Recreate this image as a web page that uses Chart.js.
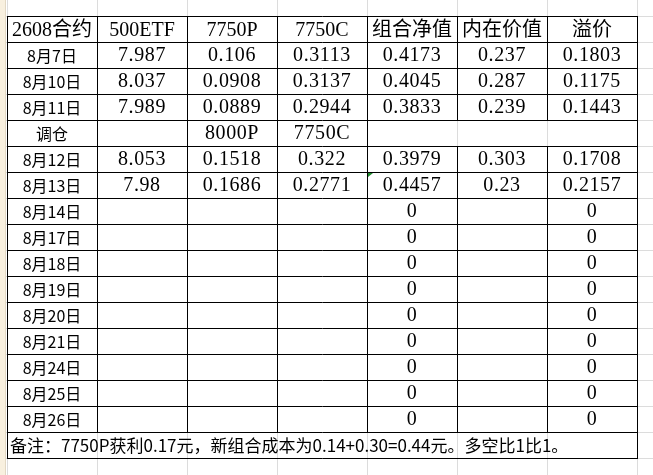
<!DOCTYPE html>
<html>
<head>
<meta charset="utf-8">
<script src="https://cdn.jsdelivr.net/npm/chart.js@4.4.1/dist/chart.umd.min.js"></script>
<style>
  html, body { margin: 0; padding: 0; background: #fff; }
  #wrap { position: relative; width: 653px; height: 475px; }
</style>
</head>
<body>
<div id="wrap"><canvas id="sheet"></canvas></div>
<script>
// --- TABLE DATA ---
const headers = ['2608合约', '500ETF', '7750P', '7750C', '组合净值', '内在价值', '溢价'];
const rowLabels = ['8月7日', '8月10日', '8月11日', '调仓', '8月12日', '8月13日', '8月14日', '8月17日',
  '8月18日', '8月19日', '8月20日', '8月21日', '8月24日', '8月25日', '8月26日'];
const etfPrice = [7.987, 8.037, 7.989, null, 8.053, 7.98];
const putLeg = [0.106, 0.0908, 0.0889, '8000P', 0.1518, 0.1686];
const callLeg = [0.3113, 0.3137, 0.2944, '7750C', 0.322, 0.2771];
const netValue = [0.4173, 0.4045, 0.3833, null, 0.3979, 0.4457, 0, 0, 0, 0, 0, 0, 0, 0, 0];
const intrinsic = [0.237, 0.287, 0.239, null, 0.303, 0.23];
const premium = [0.1803, 0.1175, 0.1443, null, 0.1708, 0.2157, 0, 0, 0, 0, 0, 0, 0, 0, 0];
const note = '备注：7750P获利0.17元，新组合成本为0.14+0.30=0.44元。多空比1比1。';

const ROLL_ROW = 3; // merged row
const NOTE_ROW = rowLabels.length + 1; // y value of note row top

const NUM_FONT = '20px "Liberation Serif", "Noto Sans CJK SC", serif';
const HEAD_FONT = '20px "Liberation Serif", "Noto Sans CJK SC", serif';
const DATE_FONT = '16px "Noto Sans CJK SC", sans-serif';
const NOTE_FONT = '17px "Noto Sans CJK SC", sans-serif';

// one dataset per column, each cell is a point in the middle of its box
function columnPoints(col, values) {
  const pts = [];
  values.forEach((v, i) => {
    if (v === null || v === undefined || v === '') return;
    pts.push({ x: col + 0.5, y: i + 1.5, text: String(v) });
  });
  return pts;
}

const columns = [rowLabels, etfPrice, putLeg, callLeg, netValue, intrinsic, premium];
const datasets = columns.map((vals, c) => ({
  label: headers[c],
  data: columnPoints(c, vals),
  font: c === 0 ? DATE_FONT : NUM_FONT,
  spacing: c === 0 ? '0px' : '0.6px',
  pointRadius: 0
}));
datasets.push({
  label: 'header',
  data: headers.map((h, c) => ({ x: c + 0.5, y: 0.5, text: h })),
  font: HEAD_FONT,
  spacing: '0px',
  pointRadius: 0
});
datasets.push({
  label: 'note',
  data: [{ x: 0, y: NOTE_ROW + 0.5, text: note }],
  font: NOTE_FONT,
  spacing: '0px',
  align: 'left',
  pointRadius: 0
});

// --- GRID PLUGIN (spreadsheet lines + table borders) ---
const gridPlugin = {
  id: 'sheetGrid',
  beforeDatasetsDraw(chart) {
    const { ctx, scales: { x, y }, width, height } = chart;
    const px = v => Math.round(x.getPixelForValue(v)) + 0.5;
    const py = v => Math.round(y.getPixelForValue(v)) + 0.5;
    ctx.save();
    // light spreadsheet grid everywhere
    ctx.strokeStyle = '#dcdcdc';
    ctx.lineWidth = 1;
    for (let c = -1; c <= headers.length + 1; c++) {
      ctx.beginPath(); ctx.moveTo(px(c), 0); ctx.lineTo(px(c), height); ctx.stroke();
    }
    for (let r = -1; r <= NOTE_ROW + 2; r++) {
      ctx.beginPath(); ctx.moveTo(0, py(r)); ctx.lineTo(width, py(r)); ctx.stroke();
    }
    // row header strip on the left
    ctx.fillStyle = '#f8f0df';
    ctx.fillRect(0, 0, 6, height);
    ctx.strokeStyle = '#e2d8c4';
    ctx.beginPath(); ctx.moveTo(5.5, 0); ctx.lineTo(5.5, height); ctx.stroke();

    // black table borders
    ctx.strokeStyle = '#000';
    for (let r = 0; r <= NOTE_ROW + 1; r++) {
      ctx.beginPath(); ctx.moveTo(px(0) - 0.5, py(r)); ctx.lineTo(px(headers.length) + 0.5, py(r)); ctx.stroke();
    }
    for (let c = 0; c <= headers.length; c++) {
      const outer = c === 0 || c === headers.length;
      ctx.beginPath();
      if (outer || c <= 4) {
        ctx.moveTo(px(c), py(0)); ctx.lineTo(px(c), py(outer ? NOTE_ROW + 1 : NOTE_ROW));
      } else {
        // columns 5,6 are merged in the roll row
        ctx.moveTo(px(c), py(0)); ctx.lineTo(px(c), py(ROLL_ROW + 1));
        ctx.moveTo(px(c), py(ROLL_ROW + 2)); ctx.lineTo(px(c), py(NOTE_ROW));
      }
      ctx.stroke();
    }
    // small green error marker on 8月13日 net value cell
    const gx = Math.round(x.getPixelForValue(4)) + 1, gy = Math.round(y.getPixelForValue(6)) + 1;
    ctx.fillStyle = '#1f8a2e';
    ctx.beginPath(); ctx.moveTo(gx, gy); ctx.lineTo(gx + 5, gy); ctx.lineTo(gx, gy + 4); ctx.closePath(); ctx.fill();
    ctx.restore();
  },
  afterDatasetsDraw(chart) {
    const { ctx } = chart;
    ctx.save();
    ctx.fillStyle = '#000';
    chart.data.datasets.forEach((ds, i) => {
      const meta = chart.getDatasetMeta(i);
      ctx.font = ds.font;
      ctx.letterSpacing = ds.spacing;
      ctx.textBaseline = 'middle';
      ctx.textAlign = ds.align === 'left' ? 'left' : 'center';
      meta.data.forEach((pt, j) => {
        const txt = ds.data[j].text;
        const dx = ds.align === 'left' ? 3 : 0;
        const dy = ds.label === 'header' ? 2 : 1;
        ctx.fillText(txt, pt.x + dx, pt.y + dy);
      });
    });
    ctx.restore();
  }
};

new Chart(document.getElementById('sheet'), {
  type: 'scatter',
  data: { datasets: datasets },
  options: {
    responsive: true,
    maintainAspectRatio: false,
    animation: false,
    devicePixelRatio: 1,
    layout: { padding: { left: 7, right: 16, top: 16, bottom: 17 } },
    scales: {
      x: { type: 'linear', min: 0, max: headers.length, display: false },
      y: { type: 'linear', min: 0, max: NOTE_ROW + 1, reverse: true, display: false }
    },
    plugins: { legend: { display: false }, tooltip: { enabled: false } }
  },
  plugins: [gridPlugin]
});
</script>
</body>
</html>
